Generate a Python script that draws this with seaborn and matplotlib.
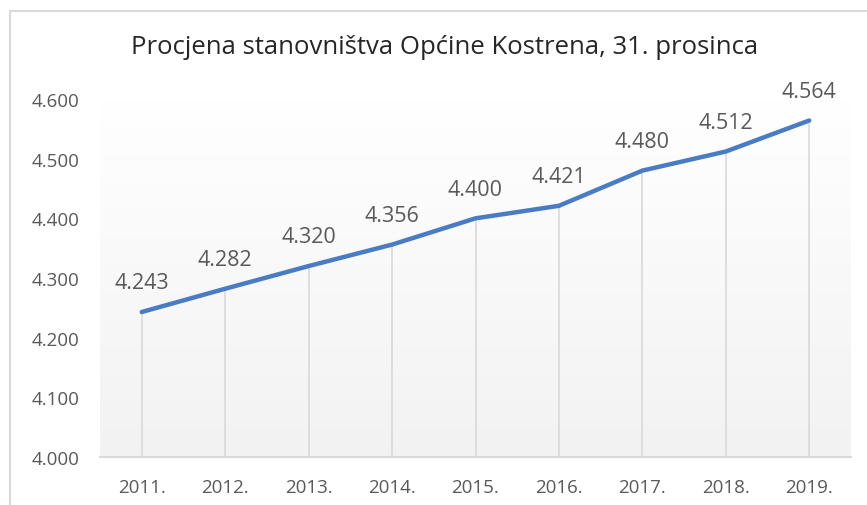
import numpy as np
import pandas as pd
import seaborn as sns
import matplotlib
matplotlib.use("Agg")
import matplotlib.pyplot as plt
from matplotlib.lines import Line2D
from matplotlib.ticker import FuncFormatter

years = ["2011.", "2012.", "2013.", "2014.", "2015.", "2016.", "2017.", "2018.", "2019."]
population = [4243, 4282, 4320, 4356, 4400, 4421, 4480, 4512, 4564]
y_ticks = [4000, 4100, 4200, 4300, 4400, 4500, 4600]
title = "Procjena stanovništva Općine Kostrena, 31. prosinca"


def hr_fmt(v, pos=None):
    return f"{int(round(v)):,}".replace(",", ".")


def plot_population(df):
    sns.set_style("white")
    plt.rcParams["font.family"] = ["Open Sans", "DejaVu Sans"]

    fig = plt.figure(figsize=(8.67, 5.06), dpi=100)
    ax = fig.add_axes([100 / 867, 1 - 458 / 506, 751 / 867, 358 / 506])

    # soft vertical gradient behind the plot area
    grad = np.linspace(0, 1, 256).reshape(-1, 1)
    cmap = matplotlib.colors.LinearSegmentedColormap.from_list("bg", ["#f2f2f2", "#ffffff"])
    ax.imshow(grad, extent=[0, 1, 0, 1], transform=ax.transAxes, cmap=cmap,
              aspect="auto", origin="lower", zorder=0)

    x = np.arange(len(df))
    ax.vlines(x, 4000, df["population"], color="#d9d9d9", lw=1.2, zorder=1)
    sns.lineplot(x=x, y=df["population"], ax=ax, color="#4a7cc4", lw=3.2,
                 zorder=3, solid_capstyle="round")

    for xi, v in zip(x, df["population"]):
        ax.annotate(hr_fmt(v), (xi, v), xytext=(0, 21), textcoords="offset points",
                    ha="center", va="center", fontsize=15.5, color="#595959")

    ax.set_xlim(-0.5, len(df) - 0.5)
    ax.set_ylim(4000, 4600)
    ax.set_xticks(x)
    ax.set_xticklabels(df["year"])
    ax.set_yticks(y_ticks)
    ax.yaxis.set_major_formatter(FuncFormatter(hr_fmt))
    ax.tick_params(axis="x", length=0, pad=15, labelsize=13.5, labelcolor="#595959")
    ax.tick_params(axis="y", length=0, pad=15, labelsize=13.5, labelcolor="#595959")
    ax.set_xlabel("")
    ax.set_ylabel("")
    for s in ["top", "right", "left"]:
        ax.spines[s].set_visible(False)
    ax.spines["bottom"].set_color("#d9d9d9")
    ax.spines["bottom"].set_linewidth(1.5)
    ax.spines["bottom"].set_zorder(2)

    fig.text(445 / 867, 1 - 47 / 506, title, ha="center", va="center",
             fontsize=18.5, color="#262626")

    # chart frame (cropped on the right and bottom)
    fig.add_artist(Line2D([10 / 867, 10 / 867], [0, 1 - 12 / 506], color="#d9d9d9", lw=1.5))
    fig.add_artist(Line2D([10 / 867, 1], [1 - 12 / 506, 1 - 12 / 506], color="#d9d9d9", lw=1.5))

    fig.savefig("out.png", dpi=100)


df = pd.DataFrame({"year": years, "population": population})
plot_population(df)
